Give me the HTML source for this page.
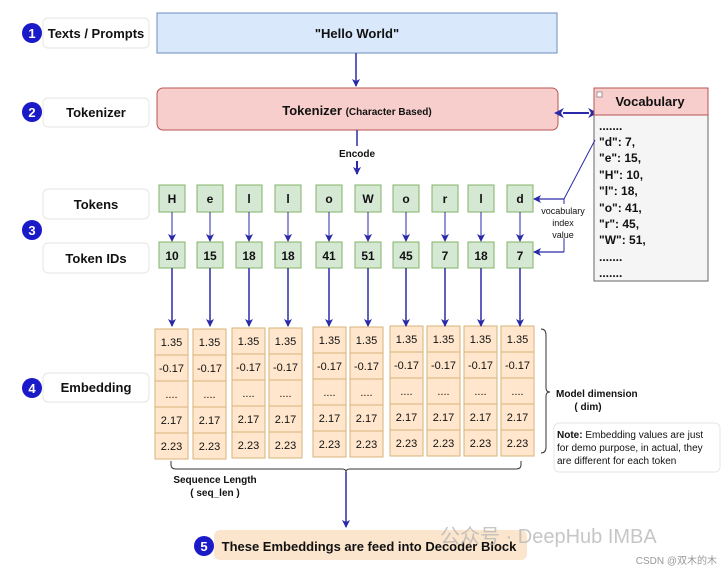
<!DOCTYPE html>
<html><head><meta charset="utf-8"><style>
body{margin:0;background:#fff;width:727px;height:570px;overflow:hidden}
svg text{font-family:"Liberation Sans","Noto Sans CJK SC",sans-serif;font-weight:bold;fill:#111}
</style></head><body>
<svg width="727" height="570" viewBox="0 0 727 570" xmlns="http://www.w3.org/2000/svg">
<defs>
<marker id="a" markerWidth="8" markerHeight="8" refX="7" refY="4" orient="auto" markerUnits="userSpaceOnUse"><path d="M0,0 L8,4 L0,8 L2,4 z" fill="#2a2aa8"/></marker>
<marker id="as" markerWidth="10" markerHeight="10" refX="1" refY="5" orient="auto-start-reverse" markerUnits="userSpaceOnUse"><path d="M0,0 L10,5 L0,10 L3,5 z" fill="#2a2aa8"/></marker>
</defs>
<g stroke="#e6e6e6" stroke-width="1" fill="#fff">
<rect x="43" y="18" width="106" height="30" rx="5"/>
<rect x="43" y="98" width="106" height="29" rx="5"/>
<rect x="43" y="189" width="106" height="30" rx="5"/>
<rect x="43" y="243" width="106" height="30" rx="5"/>
<rect x="43" y="373" width="106" height="29" rx="5"/>
<rect x="554" y="423" width="166" height="49" rx="5"/>
</g>
<g fill="#1a1ac8"><circle cx="32" cy="33" r="10"/><circle cx="32" cy="112" r="10"/><circle cx="32" cy="230" r="10"/><circle cx="32" cy="388" r="10"/><circle cx="204" cy="546" r="10"/></g>
<g font-size="13" text-anchor="middle" style="fill:#fff"><text x="32" y="38" style="fill:#fff">1</text><text x="32" y="117" style="fill:#fff">2</text><text x="32" y="235" style="fill:#fff">3</text><text x="32" y="393" style="fill:#fff">4</text><text x="204" y="551" style="fill:#fff">5</text></g>
<g font-size="13" text-anchor="middle">
<text x="96" y="38">Texts / Prompts</text><text x="96" y="117">Tokenizer</text><text x="96" y="209">Tokens</text><text x="96" y="263">Token IDs</text><text x="96" y="392">Embedding</text>
</g>
<rect x="157" y="13" width="400" height="40" fill="#dae8fc" stroke="#6c8ebf"/>
<text x="357" y="38" font-size="13" text-anchor="middle">"Hello World"</text>
<line x1="356" y1="53" x2="356" y2="86" stroke="#2a2aa8" stroke-width="1.5" marker-end="url(#a)"/>
<rect x="157" y="88" width="401" height="42" rx="6" fill="#f8cecc" stroke="#b85450"/>
<text x="357" y="115" font-size="13" text-anchor="middle">Tokenizer <tspan font-size="10">(Character Based)</tspan></text>
<line x1="357" y1="130" x2="357" y2="146" stroke="#2a2aa8" stroke-width="1.5"/>
<text x="357" y="157" font-size="10" text-anchor="middle">Encode</text>
<line x1="357" y1="161" x2="357" y2="174" stroke="#2a2aa8" stroke-width="2" marker-end="url(#a)"/>
<line x1="563" y1="113" x2="589" y2="113" stroke="#2a2aa8" stroke-width="2" marker-start="url(#as)" marker-end="url(#as)"/>
<rect x="594" y="88" width="114" height="193" fill="#f5f5f5" stroke="#666"/>
<rect x="594" y="88" width="114" height="27" fill="#f8cecc" stroke="#b85450"/>
<rect x="597" y="92" width="5" height="5" fill="#fff" stroke="#666" stroke-width="0.6"/>
<text x="650" y="106" font-size="13" text-anchor="middle">Vocabulary</text>
<g font-size="12">
<text x="599" y="130">.......</text><text x="599" y="146">"d": 7,</text><text x="599" y="162">"e": 15,</text><text x="599" y="179">"H": 10,</text><text x="599" y="195">"l": 18,</text><text x="599" y="212">"o": 41,</text><text x="599" y="228">"r": 45,</text><text x="599" y="244">"W": 51,</text><text x="599" y="261">.......</text><text x="599" y="277">.......</text>
</g>
<polyline points="595,140 564,199 564,252" fill="none" stroke="#2a2aa8" stroke-width="1"/>
<line x1="564" y1="199" x2="534" y2="199" stroke="#2a2aa8" stroke-width="1.2" marker-end="url(#a)"/>
<line x1="564" y1="252" x2="534" y2="252" stroke="#2a2aa8" stroke-width="1.2" marker-end="url(#a)"/>
<rect x="555" y="204" width="20" height="34" fill="#fff"/>
<g font-size="9" text-anchor="middle" style="font-weight:normal"><text x="563" y="214" style="font-weight:normal">vocabulary</text><text x="563" y="226" style="font-weight:normal">index</text><text x="563" y="238" style="font-weight:normal">value</text></g>
<g id="tok"></g>
<g stroke="#2a2aa8" stroke-width="1.5" fill="none" id="arr"></g>
<path d="M541,329 q5,0 5,6 v53 q0,4 4,4 q-4,0 -4,4 v51 q0,6 -5,6" fill="none" stroke="#333" stroke-width="1"/>
<text x="556" y="397" font-size="10">Model dimension</text>
<text x="588" y="410" font-size="10" text-anchor="middle">( dim)</text>
<g font-size="10"><text x="557" y="438"><tspan>Note:</tspan><tspan style="font-weight:normal"> Embedding values are just</tspan></text><text x="557" y="451" style="font-weight:normal">for demo purpose, in actual, they</text><text x="557" y="464" style="font-weight:normal">are different for each token</text></g>
<path d="M171,461 v4 q0,4 5,4 h166 q4,0 4,3 q0,-3 4,-3 h166 q5,0 5,-4 v-4" fill="none" stroke="#333" stroke-width="1"/>
<text x="215" y="483" font-size="10" text-anchor="middle">Sequence Length</text>
<text x="215" y="496" font-size="10" text-anchor="middle">( seq_len )</text>
<line x1="346" y1="472" x2="346" y2="527" stroke="#2a2aa8" stroke-width="1.5" marker-end="url(#a)"/>
<rect x="214" y="530" width="313" height="30" rx="6" fill="#fbe5cd"/>
<text x="369" y="551" font-size="13" text-anchor="middle">These Embeddings are feed into Decoder Block</text>
<text x="440" y="543" font-size="20" style="fill:#b8b8b8;font-weight:normal;opacity:.8">公众号 · DeepHub IMBA</text>
<text x="717" y="564" font-size="10" text-anchor="end" style="fill:#999;font-weight:normal">CSDN @双木的木</text>
</svg>
<script>
var cx=[172,210,249,288,329,368,406,445,481,520],ch="HelloWorld".split(""),ids=[10,15,18,18,41,51,45,7,18,7];
var L=[155,193,232,269,313,350,390,427,464,501],off=[0,0,-1,-1,-2,-2,-3,-3,-3,-3];
var v=["1.35","-0.17","....","2.17","2.23"];
var s="",a="";
for(var i=0;i<10;i++){var x=cx[i];
s+='<rect x="'+(x-13)+'" y="185" width="26" height="27" fill="#d5e8d4" stroke="#82b366"/><text x="'+x+'" y="203" font-size="12" text-anchor="middle">'+ch[i]+'</text>';
s+='<rect x="'+(x-13)+'" y="242" width="26" height="26" fill="#d5e8d4" stroke="#82b366"/><text x="'+x+'" y="260" font-size="12" text-anchor="middle">'+ids[i]+'</text>';
a+='<line x1="'+x+'" y1="212" x2="'+x+'" y2="241" stroke-width="1" marker-end="url(#a)"/>';
a+='<line x1="'+x+'" y1="268" x2="'+x+'" y2="326" marker-end="url(#a)"/>';
for(var j=0;j<5;j++){var y=329+off[i]+j*26;
s+='<rect x="'+L[i]+'" y="'+y+'" width="33" height="26" fill="#ffe6cc" stroke="#d7b37a"/><text x="'+(L[i]+16.5)+'" y="'+(y+17)+'" font-size="11" text-anchor="middle" style="font-weight:normal">'+v[j]+'</text>';}
}
document.getElementById("tok").innerHTML=s;document.getElementById("arr").innerHTML=a;
</script>
</body></html>
